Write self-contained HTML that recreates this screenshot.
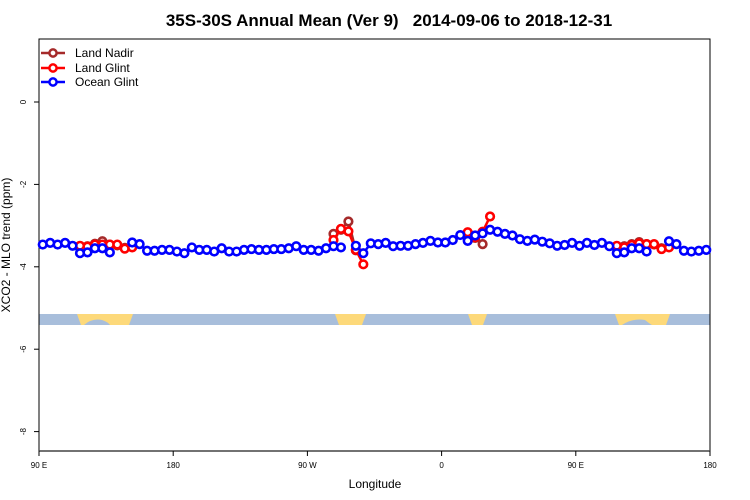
<!DOCTYPE html>
<html><head><meta charset="utf-8"><style>
body{margin:0;background:#fff;width:750px;height:500px;overflow:hidden}
svg{display:block;font-family:"Liberation Sans",sans-serif}
</style></head><body>
<svg id="chart" width="750" height="500"></svg>
<script>
const lonStart = 92.5, lonStep = 5;
const tickLons = [90, 180, 270, 360, 450, 540];
const tickLabels = ["90 E", "180", "90 W", "0", "90 E", "180"];
const yTicks = [0, -2, -4, -6, -8];
const oceanGlint = [-3.46,-3.42,-3.46,-3.42,-3.49,-3.67,-3.65,-3.55,-3.55,-3.65,null,null,-3.41,-3.45,-3.61,-3.61,-3.59,-3.59,-3.63,-3.67,-3.53,-3.59,-3.59,-3.63,-3.55,-3.63,-3.63,-3.59,-3.57,-3.59,-3.59,-3.57,-3.57,-3.55,-3.50,-3.59,-3.59,-3.61,-3.55,-3.50,-3.53,null,-3.49,-3.67,-3.43,-3.45,-3.42,-3.50,-3.49,-3.49,-3.45,-3.42,-3.37,-3.41,-3.41,-3.35,-3.23,-3.37,-3.24,-3.19,-3.10,-3.15,-3.20,-3.24,-3.33,-3.37,-3.34,-3.39,-3.43,-3.49,-3.47,-3.42,-3.49,-3.42,-3.47,-3.42,-3.50,-3.67,-3.65,-3.55,-3.55,-3.63,null,null,-3.38,-3.45,-3.61,-3.63,-3.61,-3.59];
const landGlintIdx = [5,6,7,8,9,10,11,12,39,40,41,42,43,57,58,59,60,77,78,79,80,81,82,83,84];
const landGlint = [-3.49,-3.51,-3.46,-3.46,-3.46,-3.46,-3.56,-3.53,-3.35,-3.08,-3.14,-3.59,-3.94,-3.16,-3.28,-3.15,-2.78,-3.49,-3.53,-3.47,-3.43,-3.45,-3.45,-3.57,-3.53];
const landNadirIdx = [5,6,7,8,9,10,11,12,39,40,41,42,57,58,59,77,78,79,80,81,82,83,84];
const landNadir = [-3.50,-3.50,-3.44,-3.38,-3.46,-3.48,-3.54,-3.52,-3.20,-3.10,-2.90,-3.60,-3.17,-3.30,-3.45,-3.50,-3.50,-3.45,-3.40,-3.45,-3.46,-3.55,-3.52];

const NS="http://www.w3.org/2000/svg";
const svg=document.getElementById('chart');
const L=39,R=710,T=39,B=451;
const xS=lon=>L+(lon-90)*(R-L)/450;
const yS=v=>102-v*41.2;
function el(tag,attrs,parent){const e=document.createElementNS(NS,tag);for(const k in attrs)e.setAttribute(k,attrs[k]);(parent||svg).appendChild(e);return e;}
// map strip
const strip=el('g',{});


el('rect',{x:L,y:314,width:R-L,height:11,fill:'#a8bedb'},strip);
const land=[[77,133],[335,366],[468,487],[615,670]];
land.forEach(s=>{el('polygon',{points:`${s[0]},314 ${s[1]},314 ${s[1]-4},325 ${s[0]+4},325`,fill:'#fdd97a'},strip);});
el('path',{d:'M84,325 Q92,318 102,320 Q108,322 110,325 Z',fill:'#a8bedb'},strip);
el('path',{d:'M622,325 Q632,318 645,320 Q650,324 652,325 Z',fill:'#a8bedb'},strip);
// title
const t=el('text',{x:389,y:26,'text-anchor':'middle','font-size':'17','font-weight':'bold',fill:'#000',style:'white-space:pre'});
t.textContent='35S-30S Annual Mean (Ver 9)   2014-09-06 to 2018-12-31';


// frame
const fr=el('rect',{x:L,y:T,width:R-L,height:B-T,fill:'none',stroke:'#000','stroke-width':1});


el('line',{x1:L,y1:B,x2:R,y2:B,stroke:'#444','stroke-width':1.5});
// x ticks
tickLons.forEach((lon,i)=>{const x=xS(lon);el('line',{x1:x,y1:B,x2:x,y2:B+5,stroke:'#000'});
 const tx=el('text',{x:x,y:468,'text-anchor':'middle','font-size':'8',fill:'#000'});tx.textContent=tickLabels[i];
 
 });
// y ticks
yTicks.forEach(v=>{const y=yS(v);el('line',{x1:L-5,y1:y,x2:L,y2:y,stroke:'#000'});
 const ty=el('text',{x:26,y:y,'text-anchor':'middle','font-size':'8',fill:'#000',transform:`rotate(-90 26 ${y})`});ty.textContent=v;
 
 });
const xt=el('text',{x:375,y:488,'text-anchor':'middle','font-size':'12',fill:'#000'});xt.textContent='Longitude';


const yt=el('text',{x:10,y:245,'text-anchor':'middle','font-size':'12',fill:'#000',transform:'rotate(-90 10 245)'});yt.textContent='XCO2 - MLO trend (ppm)';


// series
function drawSeries(idx,vals,color,name){
 const g=el('g',{});
 
 
 let seg=[];const segs=[];
 for(let k=0;k<vals.length;k++){
  if(vals[k]===null||(k>0&&idx[k]!==idx[k-1]+1)){if(seg.length)segs.push(seg);seg=[];}
  if(vals[k]!==null)seg.push([xS(lonStart+idx[k]*lonStep),yS(vals[k])]);
 }
 if(seg.length)segs.push(seg);
 segs.forEach(s=>{if(s.length>1)el('polyline',{points:s.map(p=>p.join(',')).join(' '),fill:'none',stroke:color,'stroke-width':2.5},g);});
 for(let k=0;k<vals.length;k++){if(vals[k]===null)continue;
  const c=el('circle',{cx:xS(lonStart+idx[k]*lonStep),cy:yS(vals[k]),r:3.8,fill:'#fff',stroke:color,'stroke-width':2.6},g);
  
  }
}
drawSeries(landNadirIdx,landNadir,'#a52a2a','land-nadir-series');
drawSeries(landGlintIdx,landGlint,'#ff0000','land-glint-series');
drawSeries(oceanGlint.map((_,i)=>i),oceanGlint,'#0000ff','ocean-glint-series');
// legend
const lg=el('g',{});


[['Land Nadir','#a52a2a',53],['Land Glint','#ff0000',68],['Ocean Glint','#0000ff',82]].forEach(([n,c,y])=>{
 const e=el('g',{},lg);
 
 
 el('line',{x1:41,y1:y,x2:65,y2:y,stroke:c,'stroke-width':2.5},e);
 el('circle',{cx:53,cy:y,r:3.6,fill:'#fff',stroke:c,'stroke-width':2.5},e);
 const tx=el('text',{x:75,y:y+4,'font-size':'12',fill:'#000'},e);tx.textContent=n;
});
</script>
</body></html>
